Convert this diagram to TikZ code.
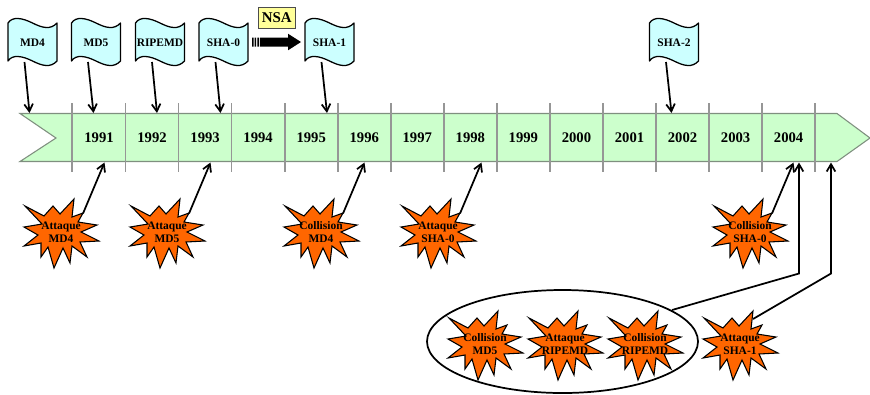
\documentclass[tikz,border=0pt]{standalone}
\usepackage{fontspec}
\setmainfont{Liberation Serif}
\usetikzlibrary{arrows.meta,calc,shapes.geometric}
\definecolor{barfill}{HTML}{CCFFCC}
\definecolor{baredge}{HTML}{7F8F7F}
\definecolor{tickc}{HTML}{969696}
\definecolor{flagfill}{HTML}{CCFFFF}
\definecolor{burstfill}{HTML}{FF6600}
\definecolor{nsafill}{HTML}{FFFF99}
\tikzset{
  conn/.style={line width=1.3pt,black,-{Straight Barb[length=5.5pt,width=6.5pt,line width=1.3pt]}},
  tickline/.style={line width=1.4pt,tickc},
  yearlabel/.style={font=\bfseries\fontsize{11}{12}\selectfont,text=black,inner sep=0pt},
  flagshape/.style={draw=black,line width=.95pt,fill=flagfill,line join=round},
  flaglabel/.style={font=\bfseries\fontsize{8.6}{10}\selectfont,text=black,inner sep=0pt},
  burstshape/.style={draw=black,line width=.8pt,fill=burstfill,line join=miter},
  burstlabel/.style={font=\bfseries\fontsize{8.6}{10}\selectfont,text=black,inner sep=0pt,align=center},
}
\newcommand{\flagat}[3]{%
  \draw[flagshape,shift={(#1,42)}] (-24.5,-19) .. controls (-20,-26) and (-10,-24) .. (0,-19)
    .. controls (10,-14) and (18,-12) .. (24.5,-19) -- (24.5,19)
    .. controls (18,26) and (10,24) .. (0,19)
    .. controls (-10,14) and (-20,12) .. (-24.5,19) -- cycle;
  \node[flaglabel] (#2) at (#1,42.5) {#3};}
\newcommand{\burstat}[5]{%
  \draw[burstshape,shift={(#2,#3)}] (-36,-27) -- (-17,-17) -- (-8,-27) -- (-1,-19) -- (13,-34)
    -- (11,-16) -- (22,-20) -- (17,-11) -- (36,-8) -- (20,-1) -- (38,8) -- (19,9) -- (26,24)
    -- (11,13) -- (9,30) -- (2,15) -- (-7,35) -- (-13,14) -- (-20,24) -- (-20,10) -- (-37,13)
    -- (-23,2) -- (-37,-6) -- (-19,-9) -- cycle;
  \node[burstlabel] (#1) at (#2,#3-1) {#4\\#5};}
\begin{document}
\begin{tikzpicture}[x=0.75pt,y=-0.75pt]
\useasboundingbox (0,0) rectangle (870,394);
% timeline bar
\draw[fill=barfill,draw=baredge,line width=.8pt] (20,113.5) -- (837,113.5) -- (870,138) -- (837,161.5) -- (20,161.5) -- (56,138) -- cycle;
\foreach \k in {0,...,14}{
  \draw[tickline] ({72.4+53.05*\k},103) -- ({72.4+53.05*\k},172);
}
\foreach \k/\yy in {0/1991,1/1992,2/1993,3/1994,4/1995,5/1996,6/1997,7/1998,8/1999,9/2000,10/2001,11/2002,12/2003,13/2004}{
  \node[yearlabel] (y\yy) at ({99+53.05*\k},138) {\yy};
}
% targets on the bar
\coordinate (t0) at (29.5,113);
\coordinate (t1) at (93.5,113);
\coordinate (t2) at (157,113);
\coordinate (t3) at (220.5,113);
\coordinate (t4) at (327,113);
\coordinate (t5) at (671.5,113);
\coordinate (b1) at (104.5,162.5);
\coordinate (b2) at (210.5,162.5);
\coordinate (b3) at (364.5,162.5);
\coordinate (b4) at (481.5,162.5);
\coordinate (b5) at (793.5,162.5);
\coordinate (b6) at (799,162.5);
\coordinate (b7) at (831,162.5);
\coordinate (k6) at (799,273.5);
\coordinate (k7) at (831,273.5);
% flags
\flagat{32.5}{fmdq}{MD4}
\flagat{96}{fmdc}{MD5}
\flagat{160}{frip}{RIPEMD}
\flagat{223.5}{fshz}{SHA-0}
\flagat{329.5}{fshu}{SHA-1}
\flagat{674}{fshd}{SHA-2}
\draw[conn] ($(fmdq)+(-8,19.5)$) -- (t0);
\draw[conn] ($(fmdc)+(-8,19.5)$) -- (t1);
\draw[conn] ($(frip)+(-8,19.5)$) -- (t2);
\draw[conn] ($(fshz)+(-8,19.5)$) -- (t3);
\draw[conn] ($(fshu)+(-8,19.5)$) -- (t4);
\draw[conn] ($(fshd)+(-8,19.5)$) -- (t5);
% NSA
\node[draw=black!70,line width=.8pt,fill=nsafill,minimum width=28pt,minimum height=16pt,inner sep=0pt,font=\bfseries\fontsize{11.2}{12}\selectfont] (nsa) at (276.7,18) {NSA};
\fill[black] (252,37.5) rectangle (253.5,46.5) (254.7,37.5) rectangle (256.2,46.5) (257.4,37.5) rectangle (259.2,46.5);
\fill[black] (260.2,37.5) -- (288,37.5) -- (288,33.7) -- (301,42) -- (288,50.3) -- (288,46.5) -- (260.2,46.5) -- cycle;
% ellipse group
\node[ellipse,draw=black,line width=1.3pt,fill=white,inner sep=0pt,minimum width=203.25pt,minimum height=77.25pt] (grp) at (562.5,341.5) {};
\coordinate (g0) at (672,310);
% bursts
\burstat{sa}{61}{233}{Attaque}{MD4}
\burstat{sb}{167}{233}{Attaque}{MD5}
\burstat{sc}{321}{233}{Collision}{MD4}
\burstat{sd}{438}{233}{Attaque}{SHA-0}
\burstat{se}{750}{233}{Collision}{SHA-0}
\burstat{sf}{485}{345}{Collision}{MD5}
\burstat{sg}{565}{345}{Attaque}{RIPEMD}
\burstat{sh}{645}{345}{Collision}{RIPEMD}
\burstat{si}{740}{345}{Attaque}{SHA-1}
\draw[conn] ($(sa)+(22,-18.5)$) -- (b1);
\draw[conn] ($(sb)+(22,-18.5)$) -- (b2);
\draw[conn] ($(sc)+(22,-18.5)$) -- (b3);
\draw[conn] ($(sd)+(22,-18.5)$) -- (b4);
\draw[conn] ($(se)+(22,-18.5)$) -- (b5);
\draw[conn] (g0) -- (k6) -- (b6);
\draw[conn] ($(si)+(13,-25)$) -- (k7) -- (b7);
\end{tikzpicture}
\end{document}
